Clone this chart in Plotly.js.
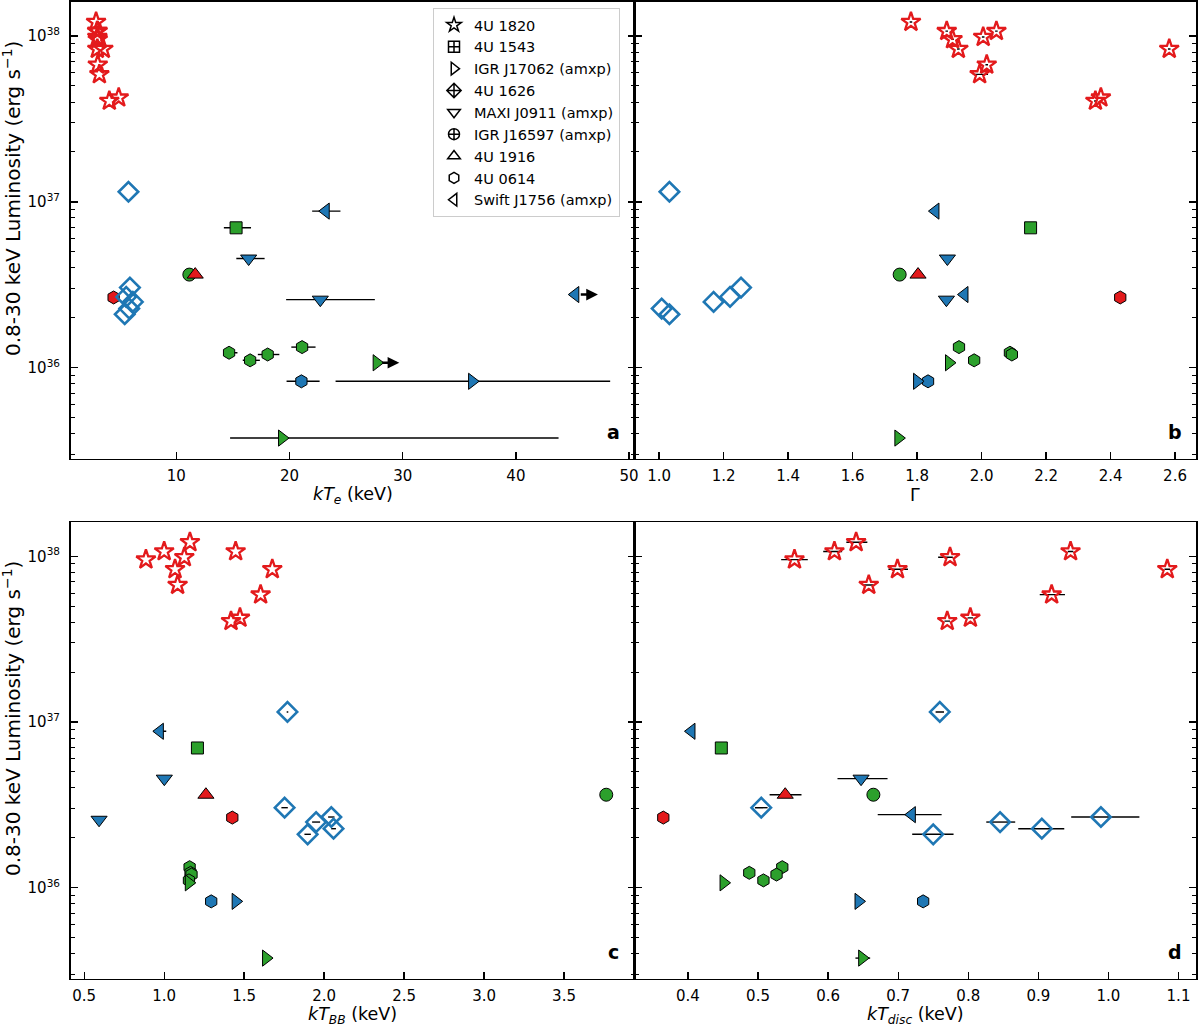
<!DOCTYPE html>
<html><head><meta charset="utf-8">
<script src="https://cdn.plot.ly/plotly-3.0.1.min.js"></script>
<style>html,body{margin:0;padding:0;background:#fff}#chart{width:1200px;height:1027px}</style>
</head><body><div id="chart"></div>
<script>
const RED = '#e31a1c', GREEN = '#2ca02c', BLUE = '#1f77b4';

// ---- 4U 1820 ----
const L_4U1820 = [1.215e38, 1.07e38, 9.55e37, 8.35e37, 9.86e37, 1.07e38, 6.71e37, 5.87e37, 4.06e37, 4.25e37, 8.35e37];
const kTe_4U1820 = [2.91, 3.00, 3.06, 3.02, 3.02, 3.05, 3.06, 3.20, 4.08, 4.91, 3.55];
const gam_4U1820 = [1.781, 1.892, 1.910, 1.928, 2.005, 2.046, 2.016, 1.994, 2.353, 2.370, 2.582];
const gamLo_4U1820 = [0.004, 0.004, 0.004, 0.004, 0.004, 0.004, 0.004, 0.021, 0.004, 0.004, 0.004];
const gamHi_4U1820 = [0.004, 0.004, 0.004, 0.004, 0.004, 0.004, 0.004, 0.026, 0.004, 0.004, 0.004];
const kTbb_4U1820 = [1.161, 1.000, 0.886, 1.068, 1.126, 1.447, 1.084, 1.603, 1.418, 1.474, 1.676];
const kTdisc_4U1820 = [0.640, 0.609, 0.552, 0.699, 0.774, 0.946, 0.658, 0.919, 0.770, 0.803, 1.084];
const kTdiscLo_4U1820 = [0.014, 0.016, 0.019, 0.013, 0.017, 0.004, 0.008, 0.017, 0.004, 0.004, 0.004];
const kTdiscHi_4U1820 = [0.016, 0.011, 0.019, 0.015, 0.004, 0.004, 0.006, 0.019, 0.004, 0.004, 0.004];

// ---- 4U 1543 ----
const L_4U1543 = [6.97e36];
const kTe_4U1543 = [15.28];
const kTeLo_4U1543 = [1.08];
const kTeHi_4U1543 = [1.32];
const gam_4U1543 = [2.152];
const kTbb_4U1543 = [1.208];
const kTdisc_4U1543 = [0.4476];

// ---- IGR J17062 (amxp) ----
const L_J17062 = [3.76e35, 1.07e36, 8.27e35];
const col_J17062 = [GREEN, GREEN, BLUE];
const kTe_J17062 = [19.34, 27.7, 36.13];
const kTeLo_J17062 = [4.59, 0, 12.06];
const kTeHi_J17062 = [24.43, 0, 12.2];
const kTeLim_J17062 = [false, true, false];
const gam_J17062 = [1.742, 1.899, 1.80];
const kTbb_J17062 = [1.637, 1.154, 1.447];
const kTdisc_J17062 = [0.6486, 0.4508, 0.6434];
const kTdiscLo_J17062 = [0.0096, 0, 0];
const kTdiscHi_J17062 = [0.0114, 0, 0];

// ---- 4U 1626 ----
const L_4U1626 = [1.15e37, 3.04e36, 2.67e36, 2.49e36, 2.27e36, 2.10e36];
const kTe_4U1626 = [5.77, 5.90, 5.57, 6.16, 5.84, 5.44];
const gam_4U1626 = [1.032, 1.254, 1.22, 1.169, 1.008, 1.032];
const kTbb_4U1626 = [1.771, 1.753, 2.045, 1.95, 2.059, 1.897];
const kTbbErr_4U1626 = [0.005, 0.02, 0.02, 0.025, 0.015, 0.02];
const kTdisc_4U1626 = [0.7594, 0.5046, 0.9893, 0.8454, 0.905, 0.750];
const kTdiscLo_4U1626 = [0.006, 0.009, 0.0424, 0.0197, 0.0337, 0.030];
const kTdiscHi_4U1626 = [0.006, 0.009, 0.0549, 0.0216, 0.032, 0.029];

// ---- MAXI J0911 (amxp) ----
const L_J0911 = [4.55e36, 2.57e36];
const kTe_J0911 = [16.39, 22.72];
const kTeLo_J0911 = [1.09, 3.02];
const kTeHi_J0911 = [1.41, 4.82];
const gam_J0911 = [1.894, 1.891];
const kTbb_J0911 = [1.001, 0.593];
const kTdisc_J0911 = [0.647, null];
const kTdiscLo_J0911 = [0.0336, 0];
const kTdiscHi_J0911 = [0.0378, 0];

// ---- IGR J16597 (amxp) ----
const L_J16597 = [3.64e36];
const kTe_J16597 = [11.15];
const gam_J16597 = [1.746];
const kTbb_J16597 = [3.764];
const kTdisc_J16597 = [0.6646];

// ---- 4U 1916 ----
const L_4U1916 = [3.64e36];
const kTe_4U1916 = [11.67];
const gam_4U1916 = [1.803];
const kTbb_4U1916 = [1.261];
const kTdisc_4U1916 = [0.5388];
const kTdiscLo_4U1916 = [0.0223];
const kTdiscHi_4U1916 = [0.0232];

// ---- 4U 0614 ----
const L_4U0614 = [2.65e36, 1.33e36, 1.23e36, 1.20e36, 1.107e36, 8.27e35];
const col_4U0614 = [RED, GREEN, GREEN, GREEN, GREEN, BLUE];
const kTe_4U0614 = [4.46, 21.11, 14.66, 18.07, 16.52, 21.05];
const kTeLo_4U0614 = [0, 0.95, 0.26, 0.87, 0.65, 1.31];
const kTeHi_4U0614 = [0, 1.19, 0.74, 1.03, 0.86, 1.61];
const gam_4U0614 = [2.43, 1.930, 2.088, 2.094, 1.977, 1.834];
const kTbb_4U0614 = [1.426, 1.159, 1.165, 1.171, 1.155, 1.294];
const kTdisc_4U0614 = [0.3648, 0.5346, 0.4875, 0.5264, 0.5077, 0.7356];

// ---- Swift J1756 (amxp) ----
const L_J1756 = [8.79e36, 2.76e36];
const kTe_J1756 = [23.2, 45.25];
const kTeLo_J1756 = [1.2, 0];
const kTeHi_J1756 = [1.3, 0];
const kTeLim_J1756 = [false, true];
const gam_J1756 = [1.857, 1.947];
const kTbb_J1756 = [0.973, null];
const kTbbErr_J1756 = [0.04, 0];
const kTdisc_J1756 = [0.405, 0.7195];
const kTdiscLo_J1756 = [0, 0.0487];
const kTdiscHi_J1756 = [0, 0.0425];

// ---- panel tick labels ----
const yTickVals = [1e36, 1e37, 1e38];
const yTickText = ['10<sup>36</sup>', '10<sup>37</sup>', '10<sup>38</sup>'];
const xTicksA = [10, 20, 30, 40, 50];
const xTicksB = [1.0, 1.2, 1.4, 1.6, 1.8, 2.0, 2.2, 2.4, 2.6];
const xTicksC = [0.5, 1.0, 1.5, 2.0, 2.5, 3.0, 3.5];
const xTicksD = [0.4, 0.5, 0.6, 0.7, 0.8, 0.9, 1.0, 1.1];

// ---- source descriptions (built from the arrays above) ----
const sources = [
  {name: '4U 0614', sym: 'hexagon', size: 13, open: false, color: col_4U0614, L: L_4U0614,
   a: [kTe_4U0614, kTeLo_4U0614, kTeHi_4U0614], b: [gam_4U0614], c: [kTbb_4U0614], d: [kTdisc_4U0614], leg: 'hexagon-open'},
  {name: 'IGR J16597 (amxp)', sym: 'circle', size: 13, open: false, color: GREEN, L: L_J16597,
   a: [kTe_J16597], b: [gam_J16597], c: [kTbb_J16597], d: [kTdisc_J16597], leg: 'circle-cross-open'},
  {name: '4U 1916', sym: 'triangle-up', size: 14, open: false, color: RED, L: L_4U1916,
   a: [kTe_4U1916], b: [gam_4U1916], c: [kTbb_4U1916], d: [kTdisc_4U1916, kTdiscLo_4U1916, kTdiscHi_4U1916], leg: 'triangle-up-open'},
  {name: '4U 1543', sym: 'square', size: 12, open: false, color: GREEN, L: L_4U1543,
   a: [kTe_4U1543, kTeLo_4U1543, kTeHi_4U1543], b: [gam_4U1543], c: [kTbb_4U1543], d: [kTdisc_4U1543], leg: 'square-cross-open'},
  {name: 'IGR J17062 (amxp)', sym: 'triangle-right', size: 14, open: false, color: col_J17062, L: L_J17062,
   a: [kTe_J17062, kTeLo_J17062, kTeHi_J17062], lim: kTeLim_J17062, b: [gam_J17062], c: [kTbb_J17062],
   d: [kTdisc_J17062, kTdiscLo_J17062, kTdiscHi_J17062], leg: 'triangle-right-open'},
  {name: 'MAXI J0911 (amxp)', sym: 'triangle-down', size: 14, open: false, color: BLUE, L: L_J0911,
   a: [kTe_J0911, kTeLo_J0911, kTeHi_J0911], b: [gam_J0911], c: [kTbb_J0911],
   d: [kTdisc_J0911, kTdiscLo_J0911, kTdiscHi_J0911], leg: 'triangle-down-open'},
  {name: 'Swift J1756 (amxp)', sym: 'triangle-left', size: 14, open: false, color: BLUE, L: L_J1756,
   a: [kTe_J1756, kTeLo_J1756, kTeHi_J1756], lim: kTeLim_J1756, b: [gam_J1756], c: [kTbb_J1756, kTbbErr_J1756, kTbbErr_J1756],
   d: [kTdisc_J1756, kTdiscLo_J1756, kTdiscHi_J1756], leg: 'triangle-left-open'},
  {name: '4U 1626', sym: 'diamond-open', size: 15, open: true, lw: 2.6, color: BLUE, L: L_4U1626,
   a: [kTe_4U1626], b: [gam_4U1626], c: [kTbb_4U1626, kTbbErr_4U1626, kTbbErr_4U1626],
   d: [kTdisc_4U1626, kTdiscLo_4U1626, kTdiscHi_4U1626], leg: 'diamond-cross-open'},
  {name: '4U 1820', sym: 'star-open', size: 14.5, open: true, lw: 2.3, color: RED, L: L_4U1820,
   a: [kTe_4U1820], b: [gam_4U1820, gamLo_4U1820, gamHi_4U1820], c: [kTbb_4U1820],
   d: [kTdisc_4U1820, kTdiscLo_4U1820, kTdiscHi_4U1820], leg: 'star-open'}
];
const legendOrder = ['4U 1820', '4U 1543', 'IGR J17062 (amxp)', '4U 1626', 'MAXI J0911 (amxp)',
  'IGR J16597 (amxp)', '4U 1916', '4U 0614', 'Swift J1756 (amxp)'];

const panels = [['a', 'x', 'y'], ['b', 'x2', 'y2'], ['c', 'x3', 'y3'], ['d', 'x4', 'y4']];
const traces = [];
panels.forEach(([key, xa, ya]) => {
  sources.forEach(s => {
    const spec = s[key];
    const t = {
      type: 'scatter', mode: 'markers', x: spec[0], y: s.L, xaxis: xa, yaxis: ya,
      showlegend: false, hoverinfo: 'x+y', cliponaxis: true,
      marker: s.open
        ? {symbol: s.sym, size: s.size, color: s.color, line: {width: s.lw, color: s.color}}
        : {symbol: s.sym, size: s.size, color: s.color, line: {width: 1, color: '#000'}}
    };
    if (spec[1]) {
      t.error_x = {type: 'data', symmetric: false, arrayminus: spec[1], array: spec[2],
                   color: '#000', thickness: 1.4, width: 0};
    }
    traces.push(t);
  });
});
// legend entries (black symbols)
legendOrder.forEach(n => {
  const s = sources.find(q => q.name === n);
  traces.push({type: 'scatter', mode: 'markers', x: [null], y: [null], xaxis: 'x', yaxis: 'y',
    name: n, showlegend: true,
    marker: {symbol: s.leg, size: 11, color: '#000', line: {width: 1.5, color: '#000'}}});
});

// lower-limit arrows in panel a
const annotations = [];
sources.forEach(s => {
  if (!s.lim) return;
  s.lim.forEach((isLim, i) => {
    if (!isLim) return;
    const xv = s.a[0][i];
    annotations.push({x: xv + 2.0, y: Math.log10(s.L[i]), ax: xv + 0.35, ay: Math.log10(s.L[i]),
      xref: 'x', yref: 'y', axref: 'x', ayref: 'y', showarrow: true, arrowhead: 2,
      arrowsize: 0.9, arrowwidth: 2.6, arrowcolor: '#000', text: '', standoff: 0, startstandoff: 0});
  });
});

const FONT = 'DejaVu Sans, Liberation Sans, sans-serif';
const minorVals = [];
for (let e = 35; e <= 38; e++) for (let m = 2; m <= 9; m++) minorVals.push(m * Math.pow(10, e));

function xAx(domain, anchor, range, ticks) {
  return {domain, anchor, range, tickvals: ticks, tickformat: ticks[0] < 5 ? '.1f' : 'd',
    ticks: 'inside', ticklen: 7, tickwidth: 1.3, tickcolor: '#000', showline: true, linewidth: 1.5,
    linecolor: '#000', mirror: true, showgrid: false, zeroline: false, ticklabelstandoff: 3,
    tickfont: {family: FONT, size: 15, color: '#000'}};
}
function yAx(domain, anchor, labels) {
  return {type: 'log', domain, anchor, range: [35.449, 38.207], tickvals: yTickVals, ticktext: yTickText,
    ticks: 'inside', ticklen: 7, tickwidth: 1.5, tickcolor: '#000', showline: true, linewidth: 1.5,
    linecolor: '#000', mirror: 'ticks', showgrid: false, zeroline: false, showticklabels: labels,
    ticklabelstandoff: 6, tickfont: {family: FONT, size: 15, color: '#000'},
    minor: {tickmode: 'array', tickvals: minorVals, ticks: 'inside', ticklen: 4, tickwidth: 1,
            tickcolor: '#000', showgrid: false}};
}
const XL = [0.05875, 0.52875], XR = [0.52875, 0.99667];
const YT = [0.55307, 0.99834], YB = [0.04674, 0.49172];

const titleFont = {family: FONT, size: 17.5, color: '#000'};
const axTitles = [
  {text: '<i>kT</i><sub><i>e</i></sub> (keV)', xref: 'x domain', x: 0.5, y: 1 - 495 / 1027},
  {text: 'Γ', xref: 'x2 domain', x: 0.5, y: 1 - 495 / 1027},
  {text: '<i>kT</i><sub><i>BB</i></sub> (keV)', xref: 'x3 domain', x: 0.5, y: 1 - 1015 / 1027},
  {text: '<i>kT</i><sub><i>disc</i></sub> (keV)', xref: 'x4 domain', x: 0.5, y: 1 - 1015 / 1027}
];
axTitles.forEach(t => annotations.push({text: t.text, xref: t.xref, yref: 'paper', x: t.x, y: t.y,
  xanchor: 'center', yanchor: 'middle', showarrow: false, font: titleFont}));
[1 - 199 / 1027, 1 - 719 / 1027].forEach(yv => annotations.push({
  text: '0.8-30 keV Luminosity (erg s<sup>−1</sup>)', xref: 'paper', yref: 'paper', x: 12 / 1200, y: yv,
  xanchor: 'center', yanchor: 'middle', textangle: -90, showarrow: false,
  font: {family: FONT, size: 20, color: '#000'}}));
[['a', 'x domain', 'y domain'], ['b', 'x2 domain', 'y2 domain'], ['c', 'x3 domain', 'y3 domain'], ['d', 'x4 domain', 'y4 domain']]
  .forEach(([lab, xr, yr]) => annotations.push({text: '<b>' + lab + '</b>', xref: xr, yref: yr, x: 0.963, y: 0.058,
    xanchor: 'center', yanchor: 'middle', showarrow: false, font: {family: FONT, size: 19, color: '#000'}}));

const layout = {
  width: 1200, height: 1027, margin: {l: 0, r: 0, t: 0, b: 0},
  paper_bgcolor: '#fff', plot_bgcolor: '#fff',
  font: {family: FONT, size: 15, color: '#000'},
  xaxis: xAx(XL, 'y', [0.65, 50.48], xTicksA),
  xaxis2: xAx(XR, 'y2', [0.9237, 2.665], xTicksB),
  xaxis3: xAx(XL, 'y3', [0.4144, 3.9406], xTicksC),
  xaxis4: xAx(XR, 'y4', [0.3237, 1.125], xTicksD),
  yaxis: yAx(YT, 'x', true),
  yaxis2: yAx(YT, 'x2', false),
  yaxis3: yAx(YB, 'x3', true),
  yaxis4: yAx(YB, 'x4', false),
  showlegend: true,
  legend: {x: 433 / 1200, y: 1 - 8 / 1027, xanchor: 'left', yanchor: 'top', bgcolor: 'rgba(255,255,255,0.85)',
    bordercolor: '#cccccc', borderwidth: 1, font: {family: FONT, size: 14.5, color: '#000'}, traceorder: 'normal'},
  annotations
};
Plotly.newPlot('chart', traces, layout, {displayModeBar: false, staticPlot: true});
</script></body></html>
